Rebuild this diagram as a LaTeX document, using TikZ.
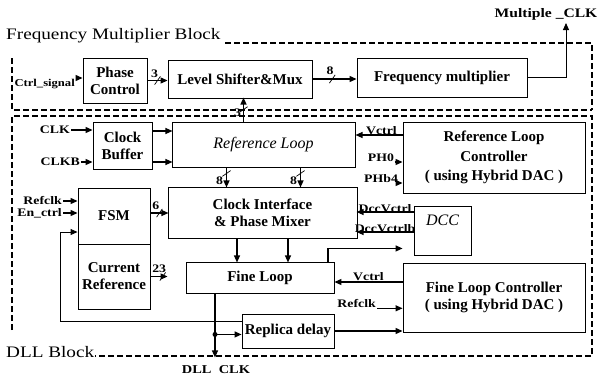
\documentclass[tikz,border=0pt]{standalone}
\usepackage{fontspec}
\setmainfont{Liberation Serif}
\newfontfamily\widefont[FakeStretch=1.2]{Liberation Serif}
\usetikzlibrary{arrows.meta}
\begin{document}
\begin{tikzpicture}[x=1pt,y=-1pt,
  blk/.style={draw, line width=0.9pt, inner sep=0pt, align=center, font=\bfseries\fontsize{15}{17}\selectfont},
  arr/.style={-{Triangle[length=7pt,width=6pt]}, line width=1.2pt},
  dsh/.style={line width=1.8pt, dash pattern=on 6pt off 3pt},
  lbl/.style={font=\widefont\bfseries\fontsize{11.5}{12}\selectfont, inner sep=1pt},
  ttl/.style={font=\widefont\fontsize{16}{18}\selectfont, inner sep=0pt},
  slash/.style={draw, line width=0.7pt, inner sep=0pt, minimum width=0pt, minimum height=10pt, rotate=-35},
]
\useasboundingbox (0,0) rectangle (597,378);

% dashed block frames
\draw[dsh] (225,43) -- (592,43) -- (592,110);
\draw[dsh] (12,58) -- (12,110) -- (592,110);
\draw[dsh] (12,330) -- (12,116) -- (592,116) -- (592,356) -- (95,356);
\node[ttl, anchor=west] (fmb) at (6,36) {Frequency Multiplier Block};
\node[ttl, anchor=west] (dllb) at (6,352) {DLL Block};

% blocks
\node[blk, minimum width=64pt, minimum height=45pt] (pc) at (115,80.5) {Phase\\Control};
\node[blk, minimum width=144pt, minimum height=38pt] (ls) at (240,79) {Level Shifter\&Mux};
\node[blk, minimum width=170pt, minimum height=39pt] (fm) at (442,77.5) {Frequency multiplier};
\node[blk, minimum width=59pt, minimum height=47pt] (cb) at (122.5,145.5) {Clock\\Buffer};
\node[blk, minimum width=183pt, minimum height=45pt, font=\itshape\fontsize{16}{18}\selectfont] (rl) at (263.5,144.5) {Reference Loop};
\node[blk, minimum width=182pt, minimum height=71pt, font=\bfseries\fontsize{15}{19.5}\selectfont] (rlc) at (494,157.5) {Reference Loop\\Controller\\( using Hybrid DAC )};
\node[blk, minimum width=189pt, minimum height=51pt] (ci) at (262.5,212.5) {Clock Interface\\\& Phase Mixer};
\node[blk, minimum width=72pt, minimum height=56pt] (fsm) at (114,216) {FSM};
\node[blk, minimum width=72pt, minimum height=65pt] (cr) at (114,276.5) {Current\\Reference};
\node[blk, minimum width=57pt, minimum height=49pt] (dcc) at (442.5,230.5) {};
\node[font=\itshape\fontsize{16}{18}\selectfont, inner sep=0pt] (dcct) at ([yshift=10pt]dcc.center) {DCC};
\node[blk, minimum width=148pt, minimum height=31pt] (fl) at (260,277.5) {Fine Loop};
\node[blk, minimum width=182pt, minimum height=69pt] (flc) at (494,297.5) {Fine Loop Controller\\( using Hybrid DAC )};
\node[blk, minimum width=92pt, minimum height=34pt] (rd) at (288,331) {Replica delay};

% frequency multiplier part
\node[lbl, anchor=east, font=\widefont\bfseries\fontsize{10.5}{12}\selectfont] (cst) at (76,84) {Ctrl\_signal};
\draw[arr] (cst.north east) -- (cst.north east -| pc.west);
\draw[arr] (pc.east) -- (pc.east -| ls.west) node[slash, pos=0.5]{} node[lbl, pos=0.35, above=1pt]{3};
\draw[arr] (ls.east) -- (ls.east -| fm.west) node[slash, pos=0.45]{} node[lbl, pos=0.4, above=3pt]{8};
\node[lbl, font=\widefont\bfseries\fontsize{13}{14}\selectfont] (mct) at (546,14) {Multiple \_CLK};
\coordinate (mc) at (566,23);
\draw[arr, line width=0.9pt] (fm.east) -| (mc);
\draw[arr] ([xshift=-20pt]rl.north) -- ++(0,-24) node[slash, pos=0.5, rotate=-20]{} node[lbl, pos=0.35, left=1pt]{3};

% clock inputs
\node[lbl, anchor=east] (clkt) at (71,130) {CLK};
\draw[arr] (clkt.east) -- (clkt.east -| cb.west);
\node[lbl, anchor=east] (clkbt) at (81,162) {CLKB};
\draw[arr] (clkbt.east) -- (clkbt.east -| cb.west);
\draw[arr] ([yshift=14.5pt]cb.east) -- ++(20,0);
\draw[arr] ([yshift=-16.5pt]cb.east) -- ++(20,0);

% reference loop to clock interface
\draw[arr] ([xshift=-37pt]rl.south) -- ++(0,20) node[slash, pos=0.3, rotate=-20]{} node[lbl, pos=0.65, left=2pt]{8};
\draw[arr] ([xshift=37pt]rl.south) -- ++(0,20) node[slash, pos=0.3, rotate=-20]{} node[lbl, pos=0.65, left=2pt]{8};

% reference loop controller
\draw[arr] ([yshift=22.5pt]rlc.west) -- ++(-47,0) node[lbl, pos=0.45, above=-1pt]{Vctrl};
\draw[arr] ([yshift=-4.5pt,xshift=-8pt]rlc.west) node[lbl, anchor=south east, inner sep=0pt]{PH0} -- ([yshift=-4.5pt]rlc.west);
\draw[arr] ([yshift=-25.5pt,xshift=-4pt]rlc.west) node[lbl, anchor=south east, inner sep=0pt]{PHb4} -- ([yshift=-25.5pt]rlc.west);

% DCC
\draw[arr] ([yshift=18.5pt]dcc.west) -- ++(-57,0) node[lbl, pos=0.5, above=-2pt]{DccVctrl};
\draw[arr] ([yshift=-1.5pt]dcc.west) -- ++(-57,0) node[lbl, pos=0.5, above=-2pt]{DccVctrlb};
\draw[arr, shorten >=11pt] ([xshift=68pt]fl.north) |- ([yshift=7pt]dcc.south west);

% FSM and current reference
\node[lbl, anchor=east] (rft) at (63,201) {Refclk};
\draw[arr] (rft.east) -- (rft.east -| fsm.west);
\node[lbl, anchor=east] (ent) at (63,213) {En\_ctrl};
\draw[arr] (ent.east) -- (ent.east -| fsm.west);
\draw[arr] ([yshift=3pt]fsm.east) -- ++(18,0) node[slash, pos=0.5]{} node[lbl, pos=0.3, above=2pt]{6};
\draw[arr, shorten >=18pt] (cr.east) -- (cr.east -| fl.west) node[slash, pos=0.35]{} node[lbl, pos=0.25, above=2pt]{23};

% clock interface to fine loop
\draw[arr] ([xshift=-25.5pt]ci.south) -- ++(0,24);
\draw[arr] ([xshift=25.5pt]ci.south) -- ++(0,24);

% fine loop controller
\draw[arr] ([yshift=15.5pt]flc.west) -- (fl.east |- 0,282) node[lbl, pos=0.5, above=0pt]{Vctrl};
\node[lbl, anchor=east] (rf2) at (377,303) {Refclk};
\draw[arr] (rf2.south east) -- (rf2.south east -| flc.west);
\draw[arr] (rd.east) -- (rd.east -| flc.west);

% output and feedback
\path ([xshift=-45pt]fl.south) ++(0,41) coordinate (j);
\coordinate (dll) at ([xshift=-45pt,yshift=-64pt]fl.south);
\draw[arr] ([xshift=-45pt]fl.south) -- (dll);
\fill (j) circle (2.5pt);
\draw[arr] (j) -- (j -| rd.west);
\node[lbl, font=\widefont\bfseries\fontsize{12}{14}\selectfont] (dllt) at (216,370) {DLL\ \ CLK};
\draw[arr, line width=0.9pt] ([yshift=10pt]rd.west) -- ++(-181,0) |- ([yshift=-16pt]fsm.west);
\end{tikzpicture}
\end{document}
